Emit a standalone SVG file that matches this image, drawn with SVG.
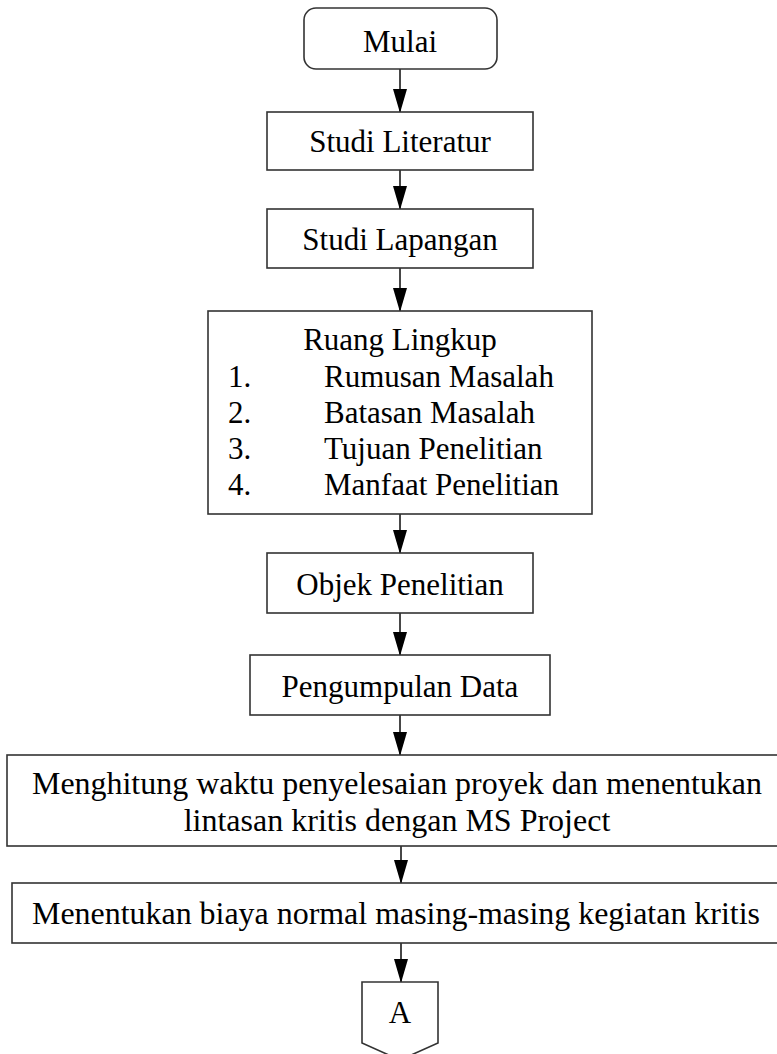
<svg xmlns="http://www.w3.org/2000/svg" width="777" height="1054" viewBox="0 0 777 1054">
<defs>
<style>
.box{fill:#fff;stroke:#333;stroke-width:1.6}
.t{font-family:"Liberation Serif","Times New Roman",serif;font-size:31px;fill:#000}
.c{text-anchor:middle}
.ln{stroke:#333;stroke-width:1.8;fill:none}
</style>
<marker id="ah" markerWidth="24" markerHeight="14" refX="23" refY="7" orient="auto" markerUnits="userSpaceOnUse" viewBox="0 0 24 14">
<path d="M0,0 L24,7 L0,14 Z" fill="#000"/>
</marker>
</defs>
<rect width="777" height="1054" fill="#fff"/>
<g id="connectors">
<line class="ln" x1="400" y1="69" x2="400" y2="112" marker-end="url(#ah)"/>
<line class="ln" x1="400" y1="170" x2="400" y2="209" marker-end="url(#ah)"/>
<line class="ln" x1="400" y1="268" x2="400" y2="311" marker-end="url(#ah)"/>
<line class="ln" x1="400" y1="514" x2="400" y2="553" marker-end="url(#ah)"/>
<line class="ln" x1="400" y1="613" x2="400" y2="655" marker-end="url(#ah)"/>
<line class="ln" x1="400" y1="715" x2="400" y2="755" marker-end="url(#ah)"/>
<line class="ln" x1="401" y1="846" x2="401" y2="883" marker-end="url(#ah)"/>
<line class="ln" x1="401" y1="943" x2="401" y2="982" marker-end="url(#ah)"/>
</g>
<g id="mulai">
<rect class="box" x="304" y="8" width="193" height="61" rx="12"/>
<text class="t c" x="400" y="52">Mulai</text>
</g>
<g id="studi-literatur">
<rect class="box" x="267" y="112" width="266" height="58"/>
<text class="t c" x="400" y="152">Studi Literatur</text>
</g>
<g id="studi-lapangan">
<rect class="box" x="267" y="209" width="266" height="59"/>
<text class="t c" x="400" y="250">Studi Lapangan</text>
</g>
<g id="ruang-lingkup">
<rect class="box" x="208" y="311" width="384" height="203"/>
<text class="t c" x="400" y="350">Ruang Lingkup</text>
<text class="t" x="228" y="387">1.</text>
<text class="t" x="324" y="387">Rumusan Masalah</text>
<text class="t" x="228" y="423">2.</text>
<text class="t" x="324" y="423">Batasan Masalah</text>
<text class="t" x="228" y="459">3.</text>
<text class="t" x="324" y="459">Tujuan Penelitian</text>
<text class="t" x="228" y="495">4.</text>
<text class="t" x="324" y="495">Manfaat Penelitian</text>
</g>
<g id="objek">
<rect class="box" x="267" y="553" width="266" height="60"/>
<text class="t c" x="400" y="595">Objek Penelitian</text>
</g>
<g id="pengumpulan">
<rect class="box" x="250" y="655" width="300" height="60"/>
<text class="t c" x="400" y="697">Pengumpulan Data</text>
</g>
<g id="menghitung">
<rect class="box" x="7" y="755" width="775" height="91"/>
<text class="t c" x="397" y="794" style="font-size:32px" textLength="730" lengthAdjust="spacingAndGlyphs">Menghitung waktu penyelesaian proyek dan menentukan</text>
<text class="t c" x="397" y="831" style="font-size:32px">lintasan kritis dengan MS Project</text>
</g>
<g id="menentukan">
<rect class="box" x="12" y="883" width="770" height="60"/>
<text class="t c" x="396" y="924" style="font-size:32px" textLength="728" lengthAdjust="spacingAndGlyphs">Menentukan biaya normal masing-masing kegiatan kritis</text>
</g>
<g id="connector-a">
<polygon class="box" points="362,982 438,982 438,1043 400,1060 362,1043"/>
<text class="t c" x="400" y="1023">A</text>
</g>
</svg>
